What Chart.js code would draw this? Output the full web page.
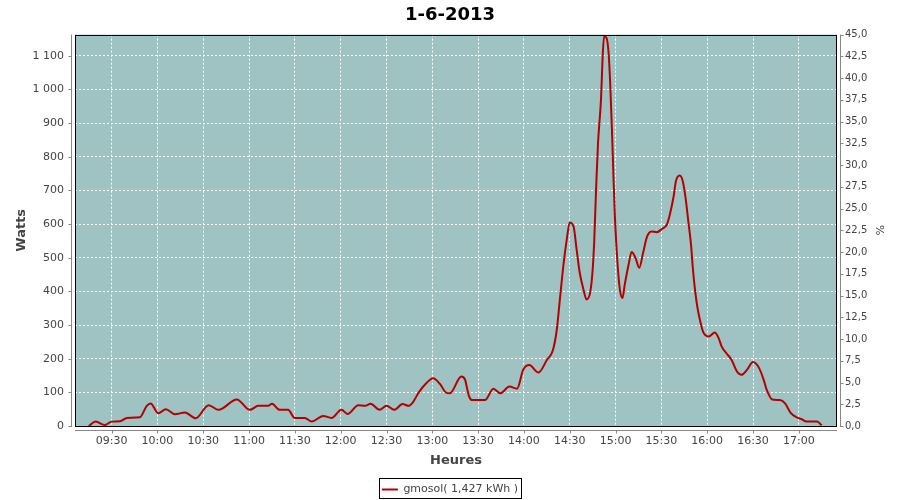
<!DOCTYPE html>
<html>
<head>
<meta charset="utf-8">
<script src="https://cdn.jsdelivr.net/npm/chart.js@4"></script>
<style>
  body { margin: 0; background: #fff; }
  #chart { display: block; }
</style>
</head>
<body>
<canvas id="chart" width="900" height="500"></canvas>
<script>
// minutes since midnight / watts
const minutes = [
  555, 559.5, 565.5, 570, 575.5, 580, 588.5, 593, 595.5, 600.5,
  605.5, 611.5, 618, 625, 633.5, 640, 652, 660.5, 666, 672.5,
  675, 680, 685.5, 690, 696.5, 701, 708.5, 714, 720.5, 724.5,
  731.5, 736, 739.5, 745.5, 750, 755, 760.5, 764.5, 767.5, 771,
  776, 780.5, 785, 789, 791.5, 799, 801.5, 802.5, 804, 806,
  814.5, 820, 824.5, 830.5, 835.5, 839.5, 843.5, 849.5, 855, 859,
  861.5, 863.5, 866, 868, 870, 872.5, 874.5, 876.5, 879, 881,
  883.5, 885, 886, 886.5, 887.5, 888.5, 890.5, 891.5, 892.5, 894,
  895.5, 896.5, 897.5, 898.5, 899.5, 900.5, 902, 903, 904.5, 906,
  908.5, 910.5, 913, 915.5, 918, 920.5, 923.5, 927, 930.5, 933.5,
  935.5, 938, 939.5, 942, 944, 946, 947.5, 949.5, 950.5, 952,
  953.5, 955.5, 957.5, 961, 965, 967.5, 969.5, 973, 976, 979.5,
  982.5, 986, 990, 994, 997, 999, 1002.5, 1007.5, 1011, 1014.5,
  1018.5, 1022, 1025, 1032, 1035
];
const watts = [
  0, 13, 3, 13, 14, 24, 26, 60, 67, 38,
  50, 35, 40, 23, 62, 48, 79, 48, 60, 60,
  66, 48, 48, 24, 24, 13, 30, 24, 48, 36,
  62, 60, 66, 48, 60, 48, 65, 60, 72, 99,
  127, 142, 125, 99, 97, 147, 137, 117, 89, 77,
  77, 111, 97, 117, 111, 167, 181, 159, 196, 226,
  286, 375, 484, 553, 605, 593, 524, 456, 405, 376,
  400, 465, 548, 610, 735, 840, 975, 1094, 1158, 1154,
  1104, 1015, 896, 757, 628, 539, 440, 400, 380, 420,
  479, 517, 500, 470, 514, 561, 578, 576, 586, 598,
  628, 682, 727, 744, 727, 672, 613, 534, 474, 405,
  355, 310, 278, 266, 278, 261, 236, 214, 196, 162,
  152, 167, 190, 172, 137, 107, 79, 77, 67, 40,
  26, 20, 13, 13, 2
];

const seriesLabel = 'gmosol( 1,427 kWh )';
const titleText = '1-6-2013';
const xMin = 546, xMax = 1045;   // 09:06 .. 17:25
const wattsMax = 1163;
const pctMax = 45;

const points = minutes.map((m, i) => ({ x: m, y: watts[i] }));

function hhmm(v) {
  const h = Math.floor(v / 60), m = Math.round(v % 60);
  return String(h).padStart(2, '0') + ':' + String(m).padStart(2, '0');
}
function spaced(v) {
  return String(v).replace(/\B(?=(\d{3})+(?!\d))/g, ' ');
}
function keepMultiples(step) {
  return function(scale) {
    scale.ticks = scale.ticks.filter(t => Math.abs(t.value / step - Math.round(t.value / step)) < 1e-6);
  };
}

const tickFont = { family: 'DejaVu Sans', size: 11 };
const tickColor = '#444444';
const axisGray = '#888888';

// plot background + frame + offset axis lines
const plotDecor = {
  id: 'plotDecor',
  beforeDraw(chart) {
    const a = chart.chartArea, ctx = chart.ctx;
    ctx.save();
    ctx.fillStyle = '#9ec3c2';
    ctx.fillRect(a.left, a.top, a.right - a.left, a.bottom - a.top);
    ctx.restore();
  },
  afterDatasetsDraw(chart) {
    const a = chart.chartArea, ctx = chart.ctx;
    ctx.save();
    ctx.strokeStyle = '#000';
    ctx.lineWidth = 1;
    ctx.strokeRect(Math.round(a.left) + 0.5, Math.round(a.top) + 0.5,
      Math.round(a.right - a.left) - 1, Math.round(a.bottom - a.top));
    ctx.restore();
  },
  afterDraw(chart) {
    const a = chart.chartArea, ctx = chart.ctx;
    const sx = chart.scales.x, sy = chart.scales.y, sy2 = chart.scales.y2;
    ctx.save();
    ctx.strokeStyle = axisGray;
    ctx.lineWidth = 1;
    ctx.beginPath();
    // left axis
    const lx = Math.round(a.left) - 3.5;
    ctx.moveTo(lx, a.top); ctx.lineTo(lx, a.bottom + 1);
    sy.ticks.forEach(t => {
      const y = Math.round(sy.getPixelForValue(t.value)) + 0.5;
      ctx.moveTo(lx - 3, y); ctx.lineTo(lx, y);
    });
    // right axis
    const rx = Math.round(a.right) + 3.5;
    ctx.moveTo(rx, a.top); ctx.lineTo(rx, a.bottom + 1);
    sy2.ticks.forEach(t => {
      const y = Math.round(sy2.getPixelForValue(t.value)) + 0.5;
      ctx.moveTo(rx, y); ctx.lineTo(rx + 3, y);
    });
    // bottom axis
    const by = Math.round(a.bottom) + 4.5;
    ctx.moveTo(a.left, by); ctx.lineTo(a.right, by);
    sx.ticks.forEach(t => {
      const x = Math.round(sx.getPixelForValue(t.value)) + 0.5;
      ctx.moveTo(x, by); ctx.lineTo(x, by + 3);
    });
    ctx.stroke();

    // legend frame
    const box = chart.legend && chart.legend.legendHitBoxes[0];
    if (box) {
      ctx.strokeStyle = '#000';
      ctx.strokeRect(Math.round(box.left) - 2.5, Math.round(box.top) - 5.5,
        Math.round(box.width) + 6, Math.round(box.height) + 9);
    }
    ctx.restore();
  }
};

new Chart(document.getElementById('chart'), {
  type: 'line',
  data: {
    datasets: [{
      label: seriesLabel,
      data: points,
      borderColor: '#b40000',
      backgroundColor: '#b40000',
      borderWidth: 2,
      pointRadius: 0,
      cubicInterpolationMode: 'monotone',
      fill: false,
      yAxisID: 'y'
    }]
  },
  options: {
    responsive: false,
    animation: false,
    layout: { padding: { left: 0, right: 0, top: 0, bottom: -5 } },
    plugins: {
      title: {
        display: true,
        text: titleText,
        color: '#000',
        font: { family: 'DejaVu Sans', size: 18, weight: 'bold' },
        padding: { top: 5, bottom: 8 }
      },
      legend: {
        position: 'bottom',
        labels: {
          usePointStyle: true,
          pointStyle: 'line',
          pointStyleWidth: 16,
          color: tickColor,
          font: tickFont,
          padding: 6
        }
      },
      tooltip: { enabled: false }
    },
    scales: {
      x: {
        type: 'linear',
        min: xMin,
        max: xMax,
        afterBuildTicks: keepMultiples(30),
        afterFit(scale) { scale.height = 52; },
        ticks: {
          stepSize: 30,
          includeBounds: false,
          padding: 9,
          color: tickColor,
          font: tickFont,
          maxRotation: 0,
          autoSkip: false,
          callback: v => hhmm(v)
        },
        grid: { color: '#ffffff', lineWidth: 1, drawTicks: false, borderDash: [2, 2] },
        border: { display: false, dash: [2, 2] },
        title: {
          display: true,
          text: 'Heures',
          color: tickColor,
          font: { family: 'DejaVu Sans', size: 13, weight: 'bold' },
          padding: { top: 0, bottom: 10 }
        }
      },
      y: {
        position: 'left',
        min: 0,
        max: wattsMax,
        afterBuildTicks: keepMultiples(100),
        afterFit(scale) { scale.width = 75; },
        ticks: {
          stepSize: 100,
          includeBounds: false,
          padding: 11,
          color: tickColor,
          font: tickFont,
          callback: v => spaced(v)
        },
        grid: { color: '#ffffff', lineWidth: 1, drawTicks: false, borderDash: [2, 2] },
        border: { display: false, dash: [2, 2] },
        title: {
          display: true,
          text: 'Watts',
          color: tickColor,
          font: { family: 'DejaVu Sans', size: 13, weight: 'bold' },
          padding: { top: 14, bottom: 0 }
        }
      },
      y2: {
        position: 'right',
        display: true,
        min: 0,
        max: pctMax,
        afterFit(scale) { scale.width = 63; },
        ticks: {
          stepSize: 2.5,
          padding: 8,
          color: tickColor,
          font: { family: 'DejaVu Sans', size: 10 },
          callback: v => v.toFixed(1).replace('.', ',')
        },
        grid: { display: false, drawTicks: false },
        border: { display: false },
        title: {
          display: true,
          text: '%',
          color: tickColor,
          font: { family: 'DejaVu Sans', size: 11 },
          padding: { top: 15, bottom: 0 }
        }
      }
    }
  },
  plugins: [plotDecor]
});
</script>
</body>
</html>
